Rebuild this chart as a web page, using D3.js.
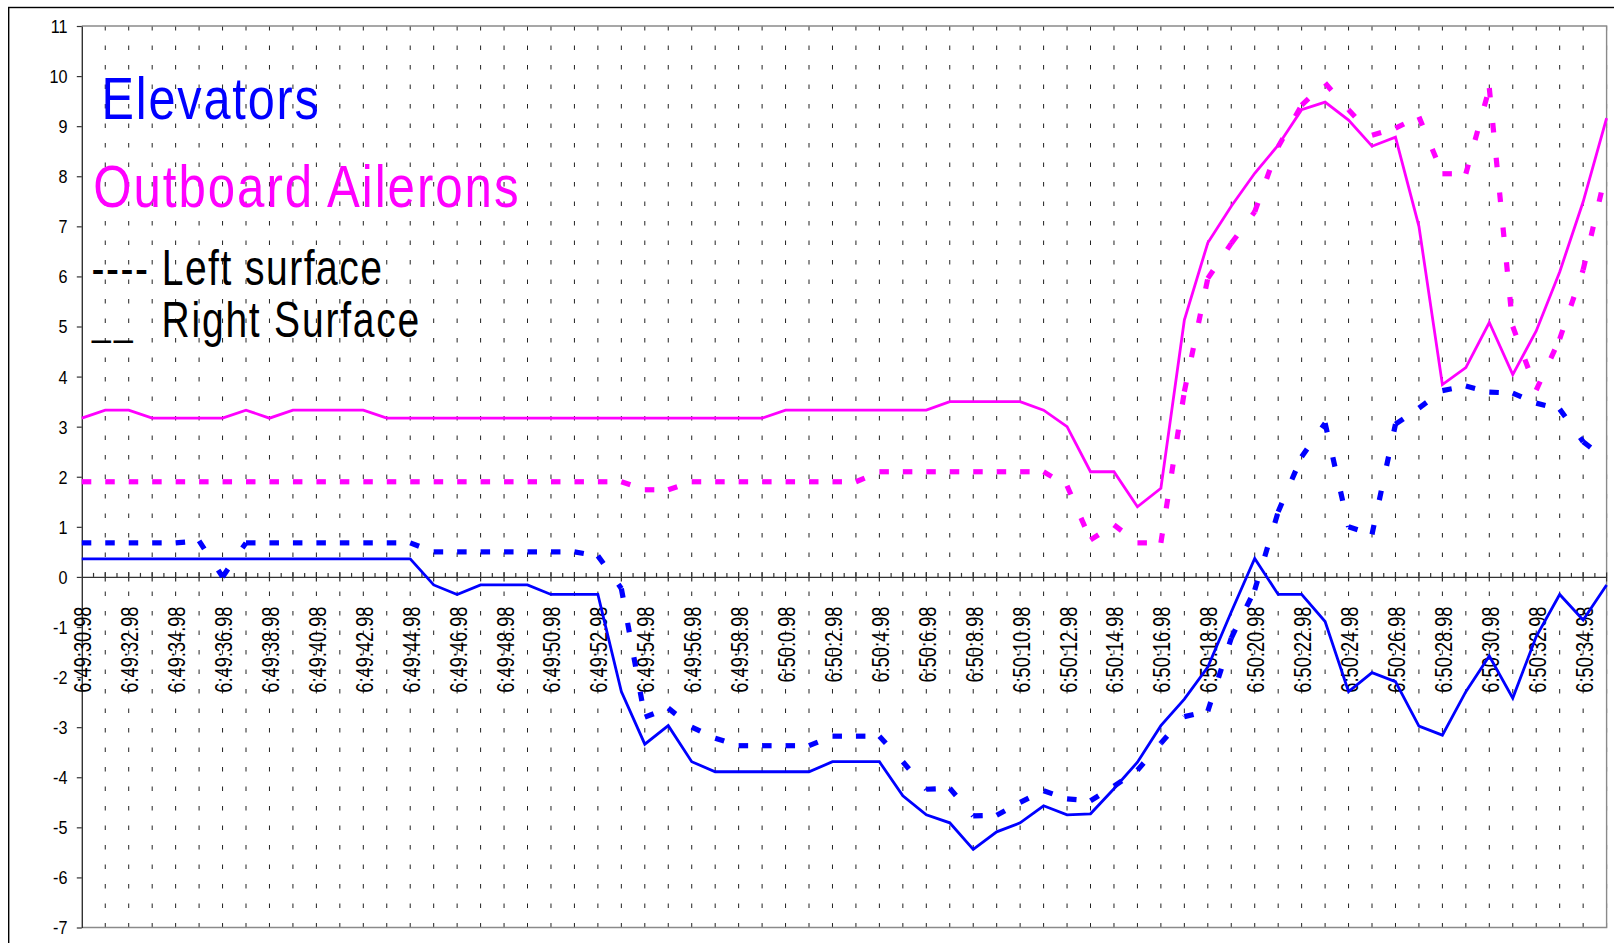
<!DOCTYPE html>
<html>
<head>
<meta charset="utf-8">
<script src="https://cdn.jsdelivr.net/npm/d3@7"></script>
<style>
  html, body { margin: 0; padding: 0; background: #fff; }
  svg { display: block; }
  text { font-family: "Liberation Sans", Arial, sans-serif; }
</style>
</head>
<body>
<svg id="chart" width="1614" height="943"></svg>
<script>
// One sample per second of flight-data time
const categories = [
  "6:49:30.98","6:49:31.98","6:49:32.98","6:49:33.98","6:49:34.98","6:49:35.98",
  "6:49:36.98","6:49:37.98","6:49:38.98","6:49:39.98","6:49:40.98","6:49:41.98",
  "6:49:42.98","6:49:43.98","6:49:44.98","6:49:45.98","6:49:46.98","6:49:47.98",
  "6:49:48.98","6:49:49.98","6:49:50.98","6:49:51.98","6:49:52.98","6:49:53.98",
  "6:49:54.98","6:49:55.98","6:49:56.98","6:49:57.98","6:49:58.98","6:49:59.98",
  "6:50:0.98","6:50:1.98","6:50:2.98","6:50:3.98","6:50:4.98","6:50:5.98",
  "6:50:6.98","6:50:7.98","6:50:8.98","6:50:9.98","6:50:10.98","6:50:11.98",
  "6:50:12.98","6:50:13.98","6:50:14.98","6:50:15.98","6:50:16.98","6:50:17.98",
  "6:50:18.98","6:50:19.98","6:50:20.98","6:50:21.98","6:50:22.98","6:50:23.98",
  "6:50:24.98","6:50:25.98","6:50:26.98","6:50:27.98","6:50:28.98","6:50:29.98",
  "6:50:30.98","6:50:31.98","6:50:32.98","6:50:33.98","6:50:34.98","6:50:35.98"
];

// Labelled categories (every other second)
const xTickLabels = [
  "6:49:30.98","6:49:32.98","6:49:34.98","6:49:36.98","6:49:38.98","6:49:40.98",
  "6:49:42.98","6:49:44.98","6:49:46.98","6:49:48.98","6:49:50.98","6:49:52.98",
  "6:49:54.98","6:49:56.98","6:49:58.98","6:50:0.98","6:50:2.98","6:50:4.98",
  "6:50:6.98","6:50:8.98","6:50:10.98","6:50:12.98","6:50:14.98","6:50:16.98",
  "6:50:18.98","6:50:20.98","6:50:22.98","6:50:24.98","6:50:26.98","6:50:28.98",
  "6:50:30.98","6:50:32.98","6:50:34.98"
];

const yTicks = [-7,-6,-5,-4,-3,-2,-1,0,1,2,3,4,5,6,7,8,9,10,11];

// Elevator, left surface (deg)
const elevatorLeft = [
  0.68,0.68,0.68,0.68,0.68,0.72,0.00,0.68,0.68,0.68,0.68,0.68,0.68,0.68,0.68,
  0.50,0.50,0.50,0.50,0.50,0.50,0.50,0.42,-0.23,-2.80,-2.62,-3.00,-3.22,
  -3.37,-3.37,-3.37,-3.37,-3.18,-3.18,-3.18,
  -3.69,-4.24,-4.22,-4.77,-4.76,-4.50,-4.27,-4.43,-4.47,
  -4.18,-3.86,-3.32,-2.79,-2.68,-1.22,-0.26,1.30,2.40,3.07,
  1.00,0.85,3.05,3.37,3.72,3.81,3.69,3.67,3.47,3.35,2.70,2.33
];

// Elevator, right surface (deg)
const elevatorRight = [
  0.36,0.36,0.36,0.36,0.36,0.36,0.36,0.36,0.36,0.36,0.36,0.36,0.36,0.36,0.36,
  -0.16,-0.35,-0.16,-0.16,-0.16,-0.35,-0.35,-0.35,
  -2.29,-3.34,-2.97,-3.69,-3.89,-3.89,-3.89,-3.89,-3.89,
  -3.69,-3.69,-3.69,-4.37,-4.75,-4.91,-5.44,-5.09,-4.91,-4.57,-4.75,-4.73,
  -4.23,-3.70,-2.97,-2.44,-1.80,-0.70,0.37,-0.35,-0.35,-0.89,
  -2.29,-1.91,-2.09,-2.98,-3.16,-2.29,-1.58,-2.42,-1.19,-0.35,-0.86,-0.16
];

// Outboard aileron, left surface (deg)
const aileronLeft = [
  1.90,1.90,1.90,1.90,1.90,1.90,1.90,1.90,1.90,1.90,1.90,1.90,
  1.90,1.90,1.90,1.90,1.90,1.90,1.90,1.90,1.90,1.90,1.90,1.90,
  1.74,1.74,
  1.90,1.90,1.90,1.90,1.90,1.90,1.90,1.90,
  2.10,2.10,2.10,2.10,2.10,2.10,2.10,2.10,
  1.82,0.74,1.04,0.68,0.68,
  3.70,5.96,6.66,7.29,8.59,9.42,9.86,9.33,8.82,8.96,9.19,
  8.05,8.05,9.76,5.00,3.73,4.75,6.13,8.13
];

// Outboard aileron, right surface (deg)
const aileronRight = [
  3.17,3.33,3.33,3.17,3.17,3.17,3.17,3.33,3.17,3.33,3.33,3.33,3.33,
  3.17,3.17,3.17,3.17,3.17,3.17,3.17,3.17,3.17,3.17,3.17,3.17,3.17,3.17,3.17,3.17,3.17,
  3.33,3.33,3.33,3.33,3.33,3.33,3.33,
  3.50,3.50,3.50,3.50,
  3.33,3.00,2.10,2.10,1.40,1.77,
  5.13,6.67,7.40,8.06,8.62,9.33,9.48,9.12,8.60,8.78,7.00,
  3.84,4.18,5.08,4.04,4.91,6.09,7.49,9.16
];

const BLUE = "#0000ff";
const MAGENTA = "#ff00ff";

const W = 1614, H = 943;
const plot = { left: 81.8, right: 1606.6, top: 26, bottom: 927.5 };

const svg = d3.select("#chart");
const x = d3.scalePoint().domain(categories).range([plot.left, plot.right]);
const y = d3.scaleLinear().domain([-7, 11]).range([plot.bottom, plot.top]);
const y0 = y(0);

svg.append("rect").attr("width", W).attr("height", H).attr("fill", "#fff");

// chart frame (runs off the right and bottom edges)
svg.append("rect")
  .attr("x", 8.7).attr("y", 7.5).attr("width", 1700).attr("height", 1000)
  .attr("fill", "none").attr("stroke", "#000").attr("stroke-width", 1.4);

// vertical dotted gridlines at each category
svg.append("g").selectAll("line")
  .data(categories.slice(1))
  .join("line")
  .attr("x1", d => x(d)).attr("x2", d => x(d))
  .attr("y1", plot.top).attr("y2", plot.bottom)
  .attr("stroke", "#222").attr("stroke-width", 1)
  .attr("stroke-dasharray", "4.5 15");

// plot area border: top, right, bottom
svg.append("path")
  .attr("d", `M${plot.left},${plot.top}H${plot.right}V${plot.bottom}H${plot.left}`)
  .attr("fill", "none").attr("stroke", "#8a8a8a").attr("stroke-width", 1.4);

// value axis
const gy = svg.append("g")
  .attr("transform", `translate(${plot.left},0)`)
  .call(d3.axisLeft(y).tickValues(yTicks).tickSize(5).tickSizeOuter(0)
        .tickFormat(d => String(d)));
gy.attr("font-family", null).attr("font-size", null);
gy.select(".domain").attr("stroke", "#333").attr("stroke-width", 1.4);
gy.selectAll(".tick line").attr("stroke", "#333").attr("stroke-width", 1.2);
gy.selectAll(".tick text")
  .attr("x", 0).attr("dy", "0.36em")
  .attr("transform", "translate(-14.3,0) scale(0.9,1)")
  .attr("font-size", 18).attr("fill", "#000").attr("text-anchor", "end");

// category axis crossing at zero
const gx = svg.append("g")
  .attr("transform", `translate(0,${y0})`)
  .call(d3.axisBottom(x).tickValues(xTickLabels).tickSize(0).tickSizeOuter(0).tickPadding(0));
gx.attr("font-family", null).attr("font-size", null);
gx.select(".domain").attr("stroke", "#333").attr("stroke-width", 1.3);
gx.selectAll(".tick text")
  .attr("x", 0).attr("y", 0).attr("dy", null)
  .attr("text-anchor", "end")
  .attr("transform", `translate(9,${606.5 - y0}) rotate(-90) scale(0.76,1)`)
  .attr("font-size", 24).attr("fill", "#000");

// cross tick marks on every category, short inside ticks between them
gx.append("g").selectAll("line")
  .data(categories.slice(1))
  .join("line")
  .attr("x1", d => x(d)).attr("x2", d => x(d))
  .attr("y1", -4.5).attr("y2", 4.5)
  .attr("stroke", "#333").attr("stroke-width", 1.2);
gx.append("g").selectAll("line")
  .data(d3.pairs(categories))
  .join("line")
  .attr("x1", d => (x(d[0]) + x(d[1])) / 2).attr("x2", d => (x(d[0]) + x(d[1])) / 2)
  .attr("y1", -4).attr("y2", 0)
  .attr("stroke", "#333").attr("stroke-width", 1.2);

// series
const pts = vals => vals.map((v, i) => [x(categories[i]), y(v)]);
const line = d3.line();

function drawDashed(vals, color) {
  // each segment restarts its dash pattern at its left point
  svg.append("g").selectAll("line")
    .data(d3.pairs(pts(vals)))
    .join("line")
    .attr("x1", d => d[0][0]).attr("y1", d => d[0][1])
    .attr("x2", d => d[1][0]).attr("y2", d => d[1][1])
    .attr("stroke", color).attr("stroke-width", 5.2)
    .attr("stroke-dasharray", "9.5 25.5").attr("stroke-linecap", "butt");
}
function drawSolid(vals, color) {
  svg.append("path")
    .attr("d", line(pts(vals)))
    .attr("fill", "none").attr("stroke", color).attr("stroke-width", 2.8)
    .attr("stroke-linejoin", "miter");
}

drawDashed(elevatorLeft, BLUE);
drawSolid(elevatorRight, BLUE);
drawDashed(aileronLeft, MAGENTA);
drawSolid(aileronRight, MAGENTA);

// titles and key (narrow glyphs with open tracking)
function label(str, tx, ty, size, sx, spacing, color) {
  return svg.append("text")
    .attr("transform", `translate(${tx},${ty}) scale(${sx},1)`)
    .attr("font-size", size).attr("fill", color)
    .attr("letter-spacing", spacing)
    .text(str);
}
label("Elevators", 101.5, 119, 60, 0.81, 2.3, BLUE);
label("Outboard Ailerons", 93.2, 206.7, 60, 0.82, 2.4, MAGENTA);
label("---- Left surface", 91.6, 285, 50, 0.78, 1.9, "#000");
label("__", 92, 335, 40, 0.84, 4, "#000");
label("Right Surface", 161.5, 336.7, 50, 0.78, 2.3, "#000");
</script>
</body>
</html>
